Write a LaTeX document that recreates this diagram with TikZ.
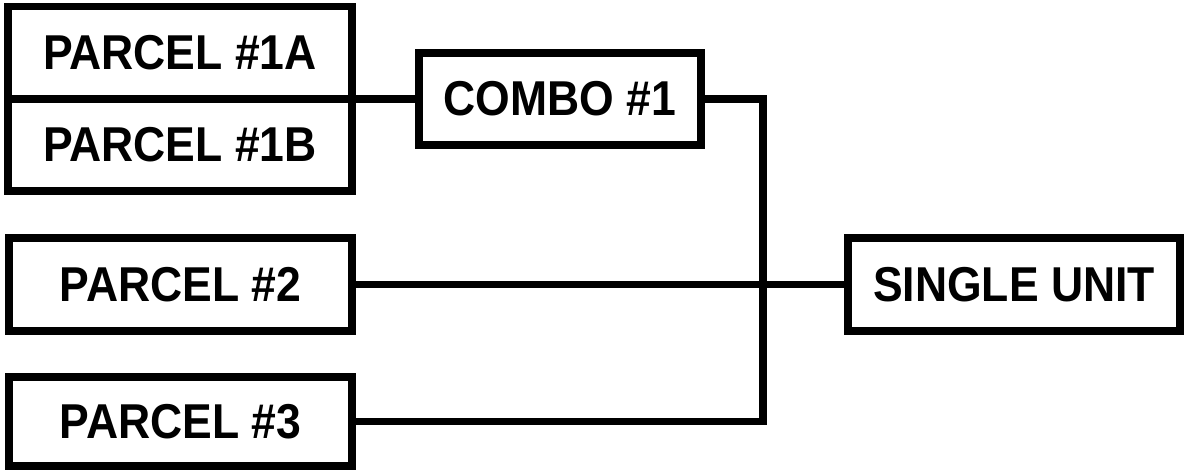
\documentclass[tikz,border=0pt]{standalone}
\usepackage{fontspec}
\usepackage{graphicx}
\setmainfont{Liberation Sans}
\newcommand{\tallt}[1]{\scalebox{1}[1.1]{#1}}
\begin{document}
\begin{tikzpicture}[x=1pt,y=-1pt,
  box/.style={draw=black,line width=7.5pt,rectangle,inner sep=0pt,outer sep=0pt,
    font=\fontsize{44.5}{50}\selectfont\bfseries,fill=white},
  link/.style={draw=black,line width=7.5pt,line join=miter}]
\useasboundingbox[fill=white] (0,0) rectangle (1184,471);
\coordinate (jx) at (763,0);
\node[box,minimum width=344pt,minimum height=92.5pt] (p1a) at (180,52.75) {\tallt{PARCEL \#1A}};
\node[box,minimum width=344pt,minimum height=92pt] (p1b) at (180,145) {\tallt{PARCEL \#1B}};
\node[box,minimum width=282pt,minimum height=92pt] (combo) at (560,99) {\tallt{COMBO \#1}};
\node[box,minimum width=343pt,minimum height=93pt] (p2) at (180.5,284.5) {\tallt{PARCEL \#2}};
\node[box,minimum width=343pt,minimum height=89pt] (p3) at (180.5,421.5) {\tallt{PARCEL \#3}};
\node[box,minimum width=332pt,minimum height=93pt] (single) at (1014,284.5) {\tallt{SINGLE UNIT}};
\draw[link] (p1a.south east) -- (combo.west);
\draw[link] (combo.east) -| (jx |- p3.east) -- (p3.east);
\draw[link] (p2.east) -- (single.west);
\end{tikzpicture}
\end{document}
